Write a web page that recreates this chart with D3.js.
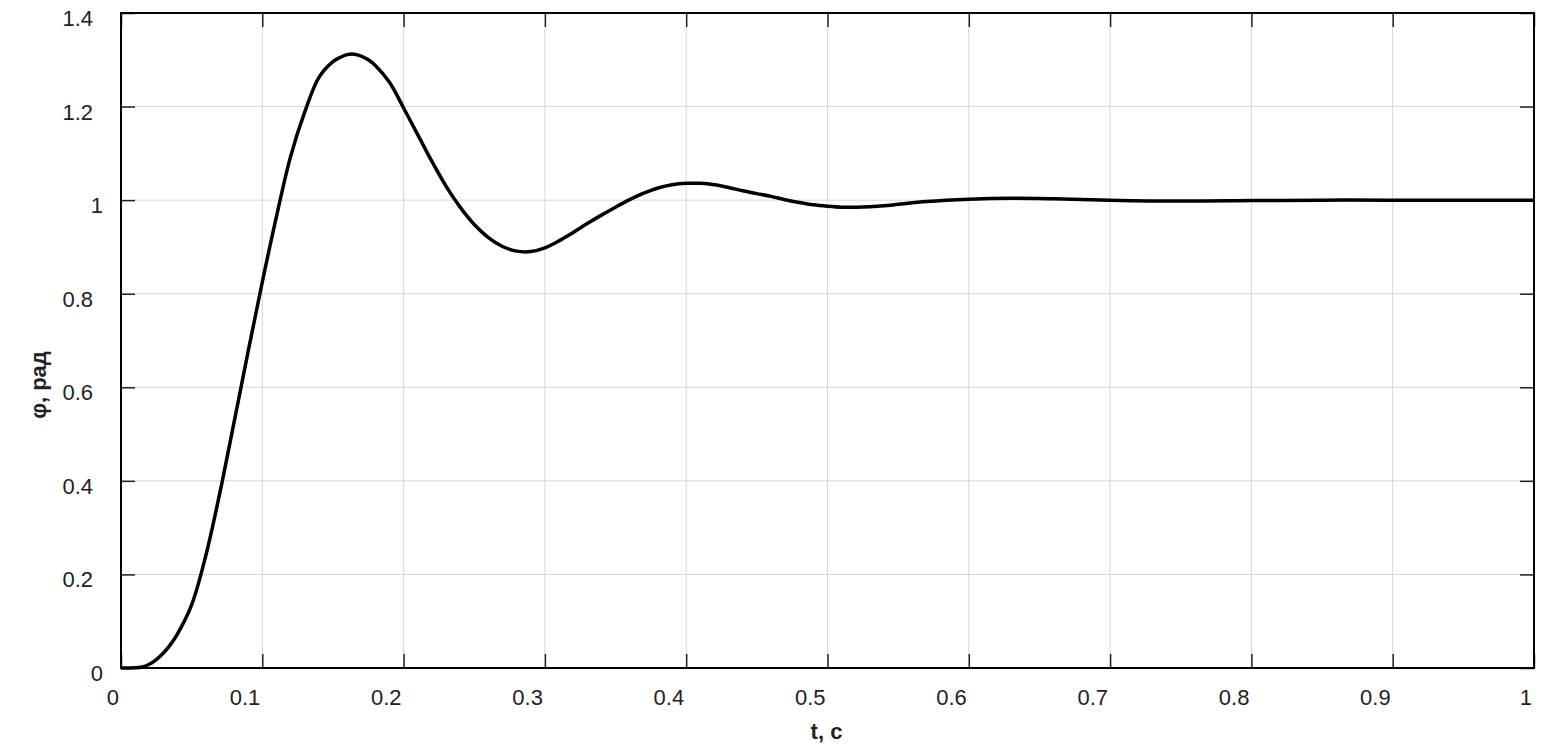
<!DOCTYPE html>
<html>
<head>
<meta charset="utf-8">
<script src="https://cdn.jsdelivr.net/npm/d3@7"></script>
<style>
  body { margin: 0; background: #fff; }
  text { font-family: "Liberation Sans", Arial, sans-serif; fill: #222; }
</style>
</head>
<body>
<div id="chart"></div>
<script>
// values
const tValues = [0, 0.01, 0.015, 0.02, 0.025, 0.03, 0.035, 0.04, 0.05, 0.06, 0.07, 0.08,
  0.09, 0.1, 0.11, 0.12, 0.13, 0.14, 0.15, 0.155, 0.16, 0.165, 0.17, 0.175, 0.18, 0.19,
  0.2, 0.21, 0.22, 0.23, 0.24, 0.25, 0.26, 0.27, 0.28, 0.29, 0.3, 0.31, 0.32, 0.33,
  0.34, 0.35, 0.36, 0.37, 0.38, 0.39, 0.4, 0.41, 0.42, 0.43, 0.44, 0.45, 0.46, 0.47,
  0.48, 0.49, 0.5, 0.51, 0.52, 0.53, 0.54, 0.55, 0.57, 0.6, 0.63, 0.66, 0.7, 0.75, 0.8,
  0.85, 0.9, 1.0];
const phiValues = [0, 0.0005, 0.002, 0.008, 0.018, 0.032, 0.05, 0.073, 0.135, 0.24,
  0.375, 0.525, 0.677, 0.825, 0.965, 1.093, 1.188, 1.262, 1.296, 1.305, 1.311, 1.312,
  1.308, 1.3, 1.288, 1.252, 1.197, 1.14, 1.083, 1.03, 0.985, 0.948, 0.92, 0.901, 0.891,
  0.89, 0.898, 0.913, 0.931, 0.95, 0.968, 0.985, 1.001, 1.015, 1.026, 1.033, 1.036,
  1.036, 1.033, 1.027, 1.02, 1.014, 1.008, 1.001, 0.995, 0.99, 0.987, 0.985, 0.985,
  0.986, 0.988, 0.991, 0.997, 1.002, 1.004, 1.003, 1.0, 0.998, 0.999, 1.0, 1.0, 1.0];
const xTicks = [0, 0.1, 0.2, 0.3, 0.4, 0.5, 0.6, 0.7, 0.8, 0.9, 1];
const yTicks = [0, 0.2, 0.4, 0.6, 0.8, 1, 1.2, 1.4];

const width = 1558, height = 747;
const margin = { top: 13, right: 24, bottom: 79, left: 121 };
const innerW = width - margin.left - margin.right;
const innerH = height - margin.top - margin.bottom;

const svg = d3.select('#chart')
    .append('svg')
    .attr('width', width)
    .attr('height', height);
const g = svg.append('g')
    .attr('transform', `translate(${margin.left},${margin.top})`);

const x = d3.scaleLinear().domain([0, 1]).range([0, innerW]);
const y = d3.scaleLinear().domain([0, 1.4]).range([innerH, 0]);

// grid
g.append('g').selectAll('line')
    .data(xTicks.slice(1, -1))
    .enter().append('line')
    .attr('x1', d => x(d)).attr('x2', d => x(d))
    .attr('y1', 0).attr('y2', innerH)
    .attr('stroke', '#d6d6d6').attr('stroke-width', 1);
g.append('g').selectAll('line')
    .data(yTicks.slice(1, -1))
    .enter().append('line')
    .attr('x1', 0).attr('x2', innerW)
    .attr('y1', d => y(d)).attr('y2', d => y(d))
    .attr('stroke', '#d6d6d6').attr('stroke-width', 1);

// inward ticks on all four sides
const tickLen = 14;
const axisStyle = sel => {
    sel.select('.domain').remove();
    sel.selectAll('.tick line').attr('stroke', '#222').attr('stroke-width', 1.5);
    sel.selectAll('.tick text').remove();
};
g.append('g').attr('transform', `translate(0,${innerH})`)
    .call(d3.axisBottom(x).tickValues(xTicks).tickSizeInner(-tickLen)).call(axisStyle);
g.append('g')
    .call(d3.axisTop(x).tickValues(xTicks).tickSizeInner(-tickLen)).call(axisStyle);
g.append('g')
    .call(d3.axisLeft(y).tickValues(yTicks).tickSizeInner(-tickLen)).call(axisStyle);
g.append('g').attr('transform', `translate(${innerW},0)`)
    .call(d3.axisRight(y).tickValues(yTicks).tickSizeInner(-tickLen)).call(axisStyle);

// tick labels
g.append('g').selectAll('text')
    .data(xTicks)
    .enter().append('text')
    .attr('x', d => x(d) - 2)
    .attr('y', innerH + 37)
    .attr('text-anchor', 'end')
    .style('font-size', '22px')
    .text(d => d3.format('~g')(d));
g.append('g').selectAll('text')
    .data(yTicks)
    .enter().append('text')
    .attr('x', d => Number.isInteger(d) ? -18 : -28)
    .attr('y', d => y(d) + 13)
    .attr('text-anchor', 'end')
    .style('font-size', '22px')
    .text(d => d3.format('~g')(d));

// frame
g.append('rect')
    .attr('width', innerW).attr('height', innerH)
    .attr('fill', 'none').attr('stroke', '#000').attr('stroke-width', 2);

// curve
const points = tValues.map((t, i) => [t, phiValues[i]]);
const line = d3.line()
    .x(d => x(d[0]))
    .y(d => y(d[1]))
    .curve(d3.curveCatmullRom.alpha(0.5));
g.append('path')
    .datum(points)
    .attr('d', line)
    .attr('fill', 'none')
    .attr('stroke', '#000')
    .attr('stroke-width', 3.5)
    .attr('stroke-linejoin', 'round');

// axis titles
svg.append('text')
    .attr('x', margin.left + innerW / 2 - 1)
    .attr('y', 739)
    .attr('text-anchor', 'middle')
    .style('font-size', '22px')
    .style('font-weight', 'bold')
    .text('t, с');
svg.append('text')
    .attr('transform', 'translate(46,385) rotate(-90)')
    .attr('text-anchor', 'middle')
    .style('font-size', '22px')
    .style('font-weight', 'bold')
    .text('φ, рад');
</script>
</body>
</html>
